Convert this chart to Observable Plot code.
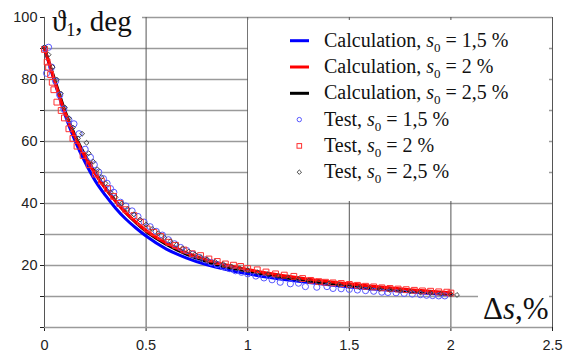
<!DOCTYPE html>
<html><head><meta charset="utf-8">
<script src="https://cdn.jsdelivr.net/npm/d3@7"></script>
<script src="https://cdn.jsdelivr.net/npm/@observablehq/plot@0.6"></script>
<style>
html,body{margin:0;padding:0;background:#fff;}
#chart{width:566px;height:353px;overflow:hidden;}
</style></head><body><div id="chart"></div>
<script>
// ---- data ----
const xGrid = [0, 0.5, 1, 1.5, 2, 2.5];
const xTickLabels = ["0", "0.5", "1", "1.5", "2", "2.5"];
const yGrid = [0, 10, 20, 30, 40, 50, 60, 70, 80, 90, 100];
const yTickLabels = ["", "", "20", "", "40", "", "60", "", "80", "", "100"];

const calcX     = [0,0.05,0.1,0.15,0.2,0.25,0.3,0.35,0.4,0.45,0.5,0.6,0.7,0.8,0.9,1.0,1.1,1.2,1.3,1.4,1.5,1.6,1.7,1.8,1.9,2.0];
const calcBlue  = [90,79.2,68.8,60.3,53.3,47.3,42.6,38.5,35,32.1,29.5,25.3,22.4,20.2,18.6,17.3,16.2,15.3,14.5,13.8,13.1,12.5,12,11.5,11,10.6];
const calcRed   = [90,79.5,69.5,61.5,55,49.5,44.8,40.7,37,34,31.3,27.2,24.1,21.8,20.1,18.7,17.5,16.5,15.6,14.8,14.1,13.4,12.8,12.2,11.7,11.2];
const calcBlack = [90,80,70,62,55.5,49.8,45,40.8,37,33.8,31,26.8,23.6,21.2,19.5,18.2,17,16,15.1,14.3,13.5,12.9,12.3,11.8,11.3,10.8];

const testBlue = [[0,90],[0.02,90.4],[0.01,82],[0.035,84],[0.055,79.5],[0.075,75],[0.095,70.5],[0.12,67],[0.145,65.7],[0.17,62.5],[0.2,57.5],[0.226,54.9],[0.245,52.5],[0.267,50.1],[0.29,48],[0.308,46.5],[0.325,44.8],[0.341,43.6],[0.374,40.4],[0.4,39.2],[0.431,37.6],[0.46,35.8],[0.49,34],[0.52,32.5],[0.55,31],[0.58,29.8],[0.61,28.3],[0.64,27],[0.67,25.8],[0.7,24.8],[0.73,23.6],[0.76,22.6],[0.79,21.8],[0.82,21],[0.85,20.3],[0.88,19.6],[0.91,19],[0.94,18.3],[0.97,17.8],[1.0,17.3],[1.04,16.6],[1.08,16],[1.12,15.4],[1.16,14.6],[1.21,14.1],[1.25,14.3],[1.284,13.2],[1.34,13],[1.39,13.2],[1.42,12.6],[1.46,12.5],[1.5,12.3],[1.54,12.1],[1.58,11.9],[1.62,11.7],[1.66,11.4],[1.69,11.3],[1.73,11.2],[1.77,11],[1.81,10.8],[1.85,10.6],[1.88,10.4],[1.91,10.3],[1.94,10.2],[1.97,10.2]];
const testRed = [[0,89.7],[0.013,85.6],[0.02,84],[0.03,81.6],[0.038,79.1],[0.046,76.7],[0.061,72.7],[0.082,70],[0.098,67.6],[0.12,64.1],[0.14,61],[0.16,58.5],[0.19,55.5],[0.22,52.5],[0.25,49.5],[0.28,47.2],[0.31,44.8],[0.34,42.3],[0.37,40],[0.4,38],[0.44,36.1],[0.472,34],[0.505,31.8],[0.538,30.7],[0.571,29.4],[0.612,27.5],[0.645,26.5],[0.686,25],[0.727,23.8],[0.768,23.2],[0.809,22.1],[0.85,21.3],[0.89,20.5],[0.93,20.1],[0.965,19.7],[1.0,19],[1.047,18.6],[1.09,17.9],[1.137,17.3],[1.18,16.9],[1.227,16.5],[1.27,15.8],[1.31,15.2],[1.35,14.8],[1.383,14.6],[1.42,14.4],[1.46,14.2],[1.5,13.9],[1.54,13.6],[1.58,13.3],[1.62,13.1],[1.66,12.8],[1.7,12.6],[1.74,12.4],[1.78,12.2],[1.82,12],[1.86,11.8],[1.9,11.7],[1.94,11.5],[1.98,11.4],[2.0,11.1]];
const testGray = [[0,90.5],[0.02,88],[0.04,84],[0.06,80],[0.08,75.5],[0.1,71],[0.12,67.5],[0.14,64.5],[0.165,61],[0.185,62.5],[0.207,59.6],[0.218,56.2],[0.24,53.5],[0.26,51],[0.28,48.5],[0.3,46.5],[0.325,43.6],[0.35,42],[0.38,40],[0.41,38.2],[0.44,36.5],[0.47,34.8],[0.5,33.2],[0.53,31.8],[0.56,30.4],[0.59,29],[0.62,27.8],[0.65,26.7],[0.68,25.5],[0.71,24.5],[0.74,23.6],[0.77,22.7],[0.8,22],[0.84,21.2],[0.88,20.4],[0.92,19.7],[0.96,19.1],[1.0,18.5],[1.05,17.8],[1.1,17.2],[1.15,16.6],[1.2,16.1],[1.25,15.6],[1.3,15.1],[1.35,14.6],[1.4,14.2],[1.45,13.8],[1.5,13.4],[1.55,13],[1.6,12.7],[1.65,12.4],[1.7,12.1],[1.75,11.8],[1.8,11.6],[1.85,11.3],[1.9,11.1],[1.95,10.9],[2.0,10.7],[2.03,10.5]];

const legendKinds  = ["Calculation", "Calculation", "Calculation", "Test", "Test", "Test"];
const legendValues = ["1,5", "2", "2,5", "1,5", "2", "2,5"];
const titleText = ["ϑ", "1", ", deg"];
const xLabelText = ["Δ", "s", ",%"];

// ---- plot ----
const colBlue = "#0000ff", colRed = "#ff0000", colBlack = "#000000";
const mkBlue = "#5858ff", mkRed = "#ff3030", mkGray = "#444";
const serif = "'Liberation Serif','Times New Roman',serif";

const line = (ys, color) => Plot.line(calcX.map((x, i) => ({x, y: ys[i]})),
  {x: "x", y: "y", stroke: color, strokeWidth: 3, curve: "monotone-x"});

const plot = Plot.plot({
  width: 566, height: 353,
  marginLeft: 44, marginRight: 14, marginTop: 17, marginBottom: 26,
  style: "font-family:'Liberation Sans',Arial,sans-serif;font-size:14.5px;color:#222;background:#fff;",
  x: {domain: [0, 2.5], ticks: 5, tickFormat: d => xTickLabels[xGrid.indexOf(+d.toFixed(2))] ?? "", tickSize: 4, tickPadding: 8, line: true, label: null},
  y: {domain: [0, 100], ticks: 10, tickFormat: d => yTickLabels[yGrid.indexOf(d)] ?? "", tickSize: 4, tickPadding: 3, line: true, label: null},
  marks: [
    Plot.ruleY(yGrid, {stroke: "#9a9a9a", strokeWidth: 1.3}),
    Plot.ruleX(xGrid, {stroke: "#555", strokeWidth: 1}),
    line(calcBlue, colBlue),
    line(calcBlack, colBlack),
    line(calcRed, colRed),
    Plot.dot(testBlue, {x: d => d[0], y: d => d[1], r: 3.1, symbol: "circle", fill: "none", stroke: mkBlue, strokeWidth: 1}),
    Plot.dot(testRed, {x: d => d[0], y: d => d[1], r: 3.7, symbol: "square2", fill: "none", stroke: mkRed, strokeWidth: 1}),
    Plot.dot(testGray, {x: d => d[0], y: d => d[1], r: 2.2, symbol: "diamond2", fill: "none", stroke: mkGray, strokeWidth: 1})
  ]
});
document.getElementById("chart").appendChild(plot);

// ---- overlays: title, axis label, legend ----
const svg = d3.select(plot.tagName.toLowerCase() === "svg" ? plot : plot.querySelector("svg"));
const ov = svg.append("g").attr("text-anchor", "start");

// title
ov.append("rect").attr("x", 45).attr("y", 4).attr("width", 97).attr("height", 32).attr("fill", "#fff");
const tt = ov.append("text").attr("x", 52).attr("y", 31).attr("font-family", serif).attr("font-size", 29).attr("fill", "#111");
tt.append("tspan").text(titleText[0]);
tt.append("tspan").attr("font-size", 18).attr("dy", 5).text(titleText[1]);
tt.append("tspan").attr("dy", -5).text(titleText[2]);

// x label
ov.append("rect").attr("x", 478).attr("y", 290).attr("width", 71).attr("height", 34).attr("fill", "#fff");
const xl = ov.append("text").attr("x", 483).attr("y", 319).attr("font-family", serif).attr("font-size", 31).attr("fill", "#111");
xl.append("tspan").text(xLabelText[0]);
xl.append("tspan").attr("font-style", "italic").text(xLabelText[1]);
xl.append("tspan").text(xLabelText[2]);

// legend
const lg = ov.append("g");
lg.append("rect").attr("x", 248).attr("y", 20).attr("width", 301).attr("height", 181).attr("fill", "#fff");
const rowY = i => 40.7 + i * 26.3;
const sampleColors = [colBlue, colRed, colBlack];
legendKinds.forEach((kind, i) => {
  const cy = rowY(i);
  if (i < 3) {
    lg.append("line").attr("x1", 290).attr("x2", 309).attr("y1", cy).attr("y2", cy)
      .attr("stroke", sampleColors[i]).attr("stroke-width", 3);
  } else if (i === 3) {
    lg.append("circle").attr("cx", 299.3).attr("cy", cy).attr("r", 2.2).attr("fill", "none").attr("stroke", mkBlue);
  } else if (i === 4) {
    lg.append("rect").attr("x", 297).attr("y", cy - 2.3).attr("width", 4.6).attr("height", 4.6).attr("fill", "none").attr("stroke", mkRed);
  } else {
    lg.append("path").attr("d", `M299.3,${cy-2.2}L301.5,${cy}L299.3,${cy+2.2}L297.1,${cy}Z`).attr("fill", "none").attr("stroke", mkGray);
  }
  const t = lg.append("text").attr("x", 324).attr("y", cy + 6).attr("font-family", serif).attr("font-size", 20).attr("fill", "#111");
  t.append("tspan").text(kind + ", ");
  t.append("tspan").attr("font-style", "italic").text("s");
  t.append("tspan").attr("font-size", 13).attr("dy", 5).text("0");
  t.append("tspan").attr("dy", -5).text(" = " + legendValues[i] + " %");
});
</script></body></html>
